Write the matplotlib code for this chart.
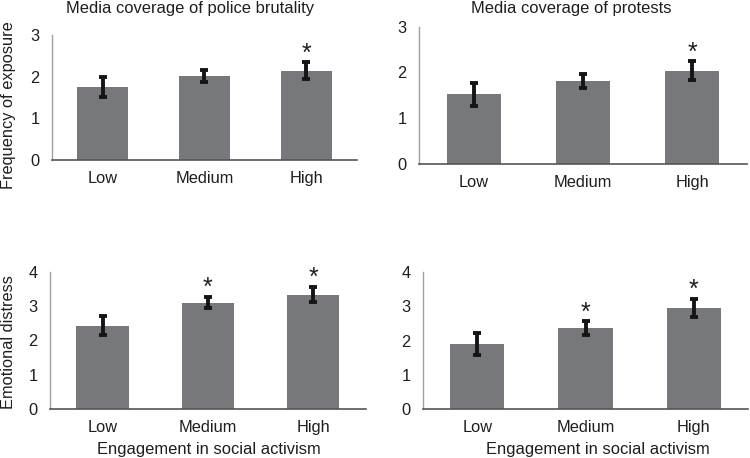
import numpy as np
from matplotlib import pyplot as plt

plt.rcParams['font.family'] = ['Liberation Sans', 'DejaVu Sans']

groups = ['Low', 'Medium', 'High']

# top row: frequency of exposure
brutality_mean = [1.74, 2.02, 2.14]
brutality_err = [0.24, 0.14, 0.20]
brutality_sig = [False, False, True]

protests_mean = [1.52, 1.81, 2.04]
protests_err = [0.25, 0.16, 0.20]
protests_sig = [False, False, True]

# bottom row: emotional distress
distress_brut_mean = [2.43, 3.09, 3.33]
distress_brut_err = [0.27, 0.16, 0.22]
distress_brut_sig = [False, True, True]

distress_prot_mean = [1.90, 2.36, 2.95]
distress_prot_err = [0.31, 0.20, 0.27]
distress_prot_sig = [False, True, True]

bar_color = '#77787b'
text_color = '#1e1e1e'


def bar_panel(ax, means, errs, sig, ymax):
    x = np.arange(len(groups))
    ax.bar(x, means, width=0.5, color=bar_color, zorder=2)
    ax.errorbar(x, means, yerr=errs, fmt='none', ecolor='#151515',
                elinewidth=2.8, capsize=2.8, capthick=2.8, zorder=3)
    for i in range(len(groups)):
        if sig[i]:
            ax.annotate('*', xy=(x[i], means[i] + errs[i]), xytext=(0, 1.5),
                        textcoords='offset points', ha='center', va='baseline',
                        fontsize=18, color=text_color)
    ax.set_xlim(-0.5, 2.5)
    ax.set_ylim(0, ymax)
    ax.set_yticks(range(0, ymax + 1))
    ax.set_xticks(x)
    ax.set_xticklabels(groups)
    ax.tick_params(length=0, labelsize=11.8, colors=text_color)
    ax.tick_params(axis='y', pad=9)
    ax.tick_params(axis='x', pad=8)
    ax.spines['top'].set_visible(False)
    ax.spines['right'].set_visible(False)
    ax.spines['left'].set_color('#a0a0a0')
    ax.spines['bottom'].set_color('#555555')
    ax.spines['left'].set_linewidth(1.0)
    ax.spines['bottom'].set_linewidth(1.2)


fig = plt.figure(figsize=(7.5, 4.58), dpi=100)

#plot 1
ax1 = fig.add_axes([0.0693, 0.6507, 0.4067, 0.2729])
bar_panel(ax1, brutality_mean, brutality_err, brutality_sig, 3)
fig.text(190 / 750, 1 - 1 / 458, 'Media coverage of police brutality',
         ha='center', va='top', fontsize=11.9, color=text_color)

#plot 2
ax2 = fig.add_axes([0.559, 0.642, 0.4366, 0.2997])
bar_panel(ax2, protests_mean, protests_err, protests_sig, 3)
fig.text(571 / 750, 1 - 1 / 458, 'Media coverage of protests',
         ha='center', va='top', fontsize=11.9, color=text_color)

#plot 3
ax3 = fig.add_axes([0.0667, 0.107, 0.4209, 0.2998])
bar_panel(ax3, distress_brut_mean, distress_brut_err, distress_brut_sig, 4)

#plot 4
ax4 = fig.add_axes([0.5644, 0.107, 0.4326, 0.2985])
bar_panel(ax4, distress_prot_mean, distress_prot_err, distress_prot_sig, 4)

fig.text(0.001, 1 - 105 / 458, 'Frequency of exposure', rotation=90,
         ha='left', va='center', fontsize=11.8, color=text_color)
fig.text(0.001, 1 - 342 / 458, 'Emotional distress', rotation=90,
         ha='left', va='center', fontsize=11.8, color=text_color)
fig.text(209 / 750, 1 - 457 / 458, 'Engagement in social activism',
         ha='center', va='bottom', fontsize=11.9, color=text_color)
fig.text(598 / 750, 1 - 457 / 458, 'Engagement in social activism',
         ha='center', va='bottom', fontsize=11.9, color=text_color)

plt.savefig('out.png', dpi=100)
